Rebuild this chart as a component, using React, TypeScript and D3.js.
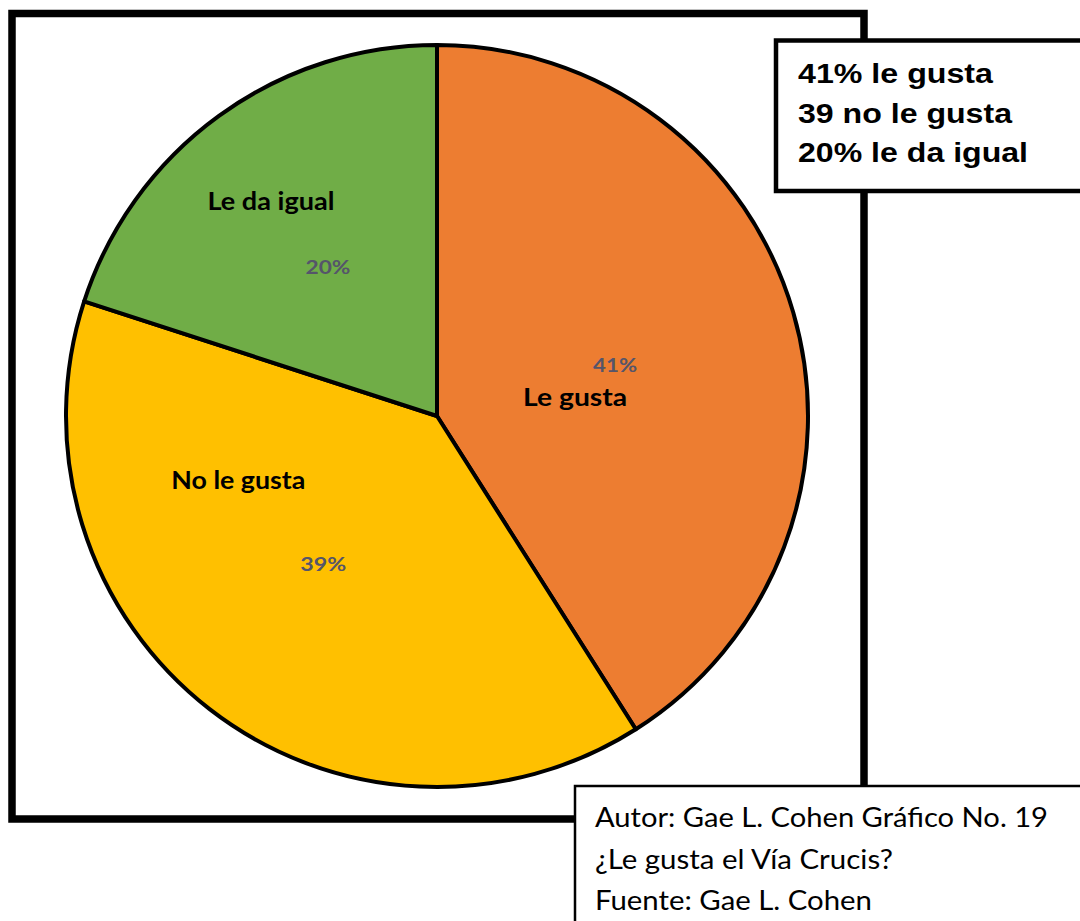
import React from "react";
import * as d3 from "d3";

const categories = ["Le gusta", "No le gusta", "Le da igual"];
const values = [41, 39, 20];
const percentLabels = ["41%", "39%", "20%"];
const colors = ["#ED7D31", "#FFC000", "#70AD47"];
const legendLines = ["41% le gusta", "39 no le gusta", "20% le da igual"];
const sourceLines = ["Autor: Gae L. Cohen Gráfico No. 19", "¿Le gusta el Vía Crucis?", "Fuente: Gae L. Cohen"];

// label layout (offset of category name relative to the percent label, and fitted widths)
const nameOffsets: [number, number][] = [[-40, 34], [-85, -82], [-57, -64]];
const nameWidths = [104, 134, 127];
const pctWidths = [44, 46, 45];
const legendWidths = [195, 214, 230];
const sourceWidths = [453, 298, 277];

const W = 1080;
const H = 921;
const cx = 437;
const cy = 416;
const R = 371;

export default function App() {
  const pie = d3.pie<number>().sort(null).value((d) => d).startAngle(0).endAngle(2 * Math.PI);
  const arcs = pie(values);
  const arc = d3.arc<d3.PieArcDatum<number>>().innerRadius(0).outerRadius(R);
  const labelArc = d3.arc<d3.PieArcDatum<number>>().innerRadius(0).outerRadius(R);

  return (
    <svg width={W} height={H} style={{ position: "absolute", left: 0, top: 0, background: "#fff" }}>
      <rect x={0} y={0} width={W} height={H} fill="#fff" />
      {/* outer frame */}
      <rect x={12} y={13.5} width={852} height={805.5} fill="none" stroke="#000" strokeWidth={7.5} />
      <g transform={`translate(${cx},${cy})`}>
        {arcs.map((a, i) => (
          <path key={i} d={arc(a) || ""} fill={colors[i]} stroke="#000" strokeWidth={4} strokeLinejoin="round" />
        ))}
        {arcs.map((a, i) => {
          const [px, c] = labelArc.centroid(a);
          const py = c + 8;
          return (
            <g key={"l" + i}>
              <text
                x={px - pctWidths[i] / 2}
                y={py}
                fontFamily="Lato, 'Open Sans', sans-serif"
                fontWeight="bold"
                fontSize={19}
                fill="#55556a"
                textLength={pctWidths[i]}
                lengthAdjust="spacingAndGlyphs"
              >
                {percentLabels[i]}
              </text>
              <text
                x={px + nameOffsets[i][0] - nameWidths[i] / 2}
                y={py + nameOffsets[i][1]}
                fontFamily="Lato, 'Open Sans', sans-serif"
                fontWeight="bold"
                fontSize={25}
                fill="#000"
                textLength={nameWidths[i]}
                lengthAdjust="spacingAndGlyphs"
              >
                {categories[i]}
              </text>
            </g>
          );
        })}
      </g>
      {/* legend box */}
      <rect x={776} y={40.5} width={330} height={150.5} fill="#fff" stroke="#000" strokeWidth={4.5} />
      {legendLines.map((t, i) => (
        <text
          key={t}
          x={798}
          y={83 + i * 39.5}
          fontFamily="'Liberation Sans', Arial, sans-serif"
          fontWeight="bold"
          fontSize={28}
          fill="#000"
          textLength={legendWidths[i]}
          lengthAdjust="spacingAndGlyphs"
        >
          {t}
        </text>
      ))}
      {/* source box */}
      <rect x={575} y={786} width={530} height={160} fill="#fff" stroke="#000" strokeWidth={2.5} />
      {sourceLines.map((t, i) => (
        <text
          key={t}
          x={595}
          y={827 + i * 41.5}
          fontFamily="Lato, 'Open Sans', sans-serif"
          fontSize={27}
          fill="#000"
          textLength={sourceWidths[i]}
          lengthAdjust="spacingAndGlyphs"
        >
          {t}
        </text>
      ))}
    </svg>
  );
}
